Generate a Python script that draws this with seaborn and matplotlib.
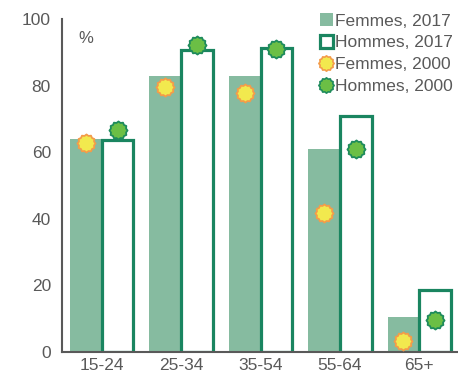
import numpy as np
import pandas as pd
import matplotlib
matplotlib.use("Agg")
import matplotlib.pyplot as plt
from matplotlib.path import Path
from matplotlib.patches import Patch
from matplotlib.lines import Line2D
import seaborn as sns

# Data
groups = ["15-24", "25-34", "35-54", "55-64", "65+"]
femmes_2017 = [64, 83, 83, 61, 10.5]
hommes_2017 = [63.7, 90.7, 91.3, 71, 18.6]
femmes_2000 = [62.8, 79.6, 77.8, 41.7, 3.3]
hommes_2000 = [66.7, 92.2, 91, 61, 9.6]

bar_green = "#86BBA0"
dark_green = "#1A8560"
grey = "#595959"

sns.set_theme(style="white")
plt.rcParams["font.family"] = ["Liberation Sans", "DejaVu Sans"]

df = pd.DataFrame({
    "groupe": groups * 2,
    "valeur": femmes_2017 + hommes_2017,
    "serie": ["Femmes, 2017"] * 5 + ["Hommes, 2017"] * 5,
})

fig = plt.figure(figsize=(4.58, 3.77), dpi=100)
ax = fig.add_axes([62 / 458, 25 / 377, 397 / 458, 333 / 377])

sns.barplot(data=df, x="groupe", y="valeur", hue="serie", order=groups,
            palette=[bar_green, "white"], width=0.8, ax=ax, legend=False,
            saturation=1)

# hommes bars: white with dark green outline
for bar in ax.containers[1]:
    bar.set_facecolor("white")
    bar.set_edgecolor(dark_green)
    bar.set_linewidth(2.3)
    bar.set_joinstyle("miter")
for bar in ax.containers[0]:
    bar.set_edgecolor("none")

# sun-like marker
n = 24
ang = np.linspace(0, 2 * np.pi, n, endpoint=False)
rad = np.where(np.arange(n) % 2 == 0, 1.0, 0.86)
verts = np.column_stack([rad * np.cos(ang), rad * np.sin(ang)])
verts = np.vstack([verts, verts[:1]])
sun = Path(verts, [Path.MOVETO] + [Path.LINETO] * (n - 1) + [Path.CLOSEPOLY])

pos = np.arange(len(groups))
ax.scatter(pos - 0.2, femmes_2000, s=170, marker=sun, facecolor="#F2E94E",
           edgecolor="#F39C4A", linewidth=1.3, zorder=5)
ax.scatter(pos + 0.2, hommes_2000, s=170, marker=sun, facecolor="#6BBF45",
           edgecolor="#1E8B5C", linewidth=1.3, zorder=5)

ax.set_xlim(-0.5, len(groups) - 0.5)
ax.set_ylim(0, 100)
ax.set_yticks(range(0, 101, 20))
ax.set_xticks(np.arange(len(groups) + 1) - 0.5)
ax.set_xticklabels([])
ax.set_xticks(pos, minor=True)
ax.set_xticklabels(groups, minor=True)
ax.set_xlabel("")
ax.set_ylabel("")

ax.tick_params(axis="both", which="major", direction="out", length=5,
               width=1.3, color=grey, labelsize=12.5, labelcolor=grey, pad=3)
ax.tick_params(axis="x", which="minor", length=0, labelsize=12.5,
               labelcolor=grey, pad=4)
for side in ["top", "right"]:
    ax.spines[side].set_visible(False)
for side in ["left", "bottom"]:
    ax.spines[side].set_color(grey)
    ax.spines[side].set_linewidth(1.5)

ax.text(-0.3, 94, "%", fontsize=12, color=grey, ha="left", va="center")

handles = [
    Patch(facecolor=bar_green, edgecolor="none"),
    Patch(facecolor="white", edgecolor=dark_green, linewidth=2.3),
    Line2D([], [], linestyle="none", marker=sun, markersize=11,
           markerfacecolor="#F2E94E", markeredgecolor="#F39C4A",
           markeredgewidth=1.2),
    Line2D([], [], linestyle="none", marker=sun, markersize=11,
           markerfacecolor="#6BBF45", markeredgecolor="#1E8B5C",
           markeredgewidth=1.2),
]
labels = ["Femmes, 2017", "Hommes, 2017", "Femmes, 2000", "Hommes, 2000"]
leg = fig.legend(handles, labels, loc="upper right",
                 bbox_to_anchor=(453 / 458, 1 - 13 / 377), frameon=False,
                 fontsize=12.5, handlelength=0.8, handleheight=0.8,
                 handletextpad=0.1, labelspacing=0.35, borderpad=0,
                 borderaxespad=0)
for t in leg.get_texts():
    t.set_color(grey)

fig.savefig("out.png", dpi=100)
